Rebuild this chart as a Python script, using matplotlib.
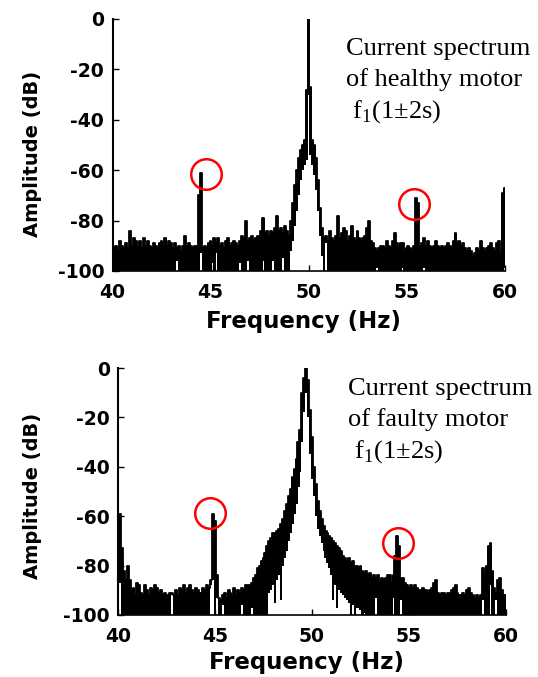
import numpy as np
import matplotlib.pyplot as plt

plt.rcParams['axes.unicode_minus'] = False
plt.rcParams['font.family'] = 'DejaVu Sans'
plt.rcParams['font.weight'] = 'bold'
plt.rcParams['mathtext.fontset'] = 'custom'
plt.rcParams['mathtext.rm'] = 'Liberation Serif'

# spectrum bins, 0.1 Hz from 40 to 60 Hz
freq = np.round(np.arange(400, 601) / 10.0, 1)

# healthy motor: upper edge of trace (dB) per bin
healthy_top = [
    -90, -91, -90, -92, -88, -90, -91, -89, -91, -84,
    -90, -87, -88, -90, -88, -91, -87, -90, -88, -90,
    -91, -89, -90, -91, -89, -88, -90, -87, -90, -88,
    -89, -91, -89, -91, -90, -92, -90, -86, -90, -89,
    -90, -91, -90, -90, -70, -61, -91, -90, -91, -89,
    -88, -90, -87, -89, -87, -90, -89, -91, -88, -87,
    -90, -89, -88, -89, -90, -88, -86, -87, -80, -88,
    -87, -86, -88, -87, -86, -87, -84, -79, -85, -84,
    -86, -84, -85, -83, -78, -84, -83, -85, -82, -84,
    -86, -80, -73, -66, -60, -55, -52, -50, -48, -28,
    0, -27, -48, -50, -55, -64, -75, -83, -87, -86,
    -88, -84, -87, -88, -86, -78, -87, -85, -83, -84,
    -88, -86, -82, -87, -88, -84, -87, -88, -87, -86,
    -83, -80, -88, -89, -91, -92, -91, -90, -90, -91,
    -88, -90, -91, -88, -85, -89, -90, -89, -89, -92,
    -91, -90, -91, -92, -90, -71, -73, -90, -89, -87,
    -90, -88, -90, -91, -90, -88, -90, -91, -90, -91,
    -90, -89, -90, -91, -88, -85, -89, -88, -90, -89,
    -91, -92, -91, -92, -94, -93, -91, -92, -88, -91,
    -92, -91, -90, -89, -91, -92, -89, -88, -93, -69,
    -67,
]

# healthy motor: lower edge of trace (dB) per bin
healthy_low = [
    -100, -100, -100, -100, -100, -100, -100, -100, -100, -100,
    -100, -100, -100, -100, -100, -100, -100, -100, -100, -100,
    -100, -100, -100, -100, -100, -100, -100, -100, -100, -100,
    -100, -100, -100, -96, -100, -100, -100, -100, -100, -100,
    -100, -100, -100, -100, -100, -93, -100, -100, -100, -100,
    -100, -97, -100, -93, -100, -100, -100, -100, -100, -100,
    -100, -100, -100, -100, -100, -97, -100, -100, -100, -96,
    -100, -100, -100, -100, -100, -100, -100, -96, -100, -100,
    -100, -100, -96, -100, -100, -100, -100, -95, -100, -100,
    -100, -92, -88, -82, -76, -70, -64, -60, -58, -56,
    -30, -54, -58, -62, -68, -76, -86, -94, -100, -89,
    -100, -100, -100, -100, -100, -100, -100, -100, -100, -100,
    -100, -100, -100, -100, -100, -100, -100, -100, -100, -100,
    -100, -100, -100, -100, -100, -99, -100, -100, -100, -100,
    -100, -100, -100, -100, -100, -100, -100, -100, -99, -100,
    -100, -100, -100, -100, -100, -100, -100, -100, -100, -99,
    -100, -100, -100, -100, -100, -100, -100, -100, -100, -100,
    -100, -100, -100, -100, -100, -100, -100, -100, -100, -100,
    -100, -100, -100, -100, -100, -100, -100, -100, -100, -100,
    -100, -100, -100, -100, -100, -100, -100, -100, -100, -100,
    -99,
]

# faulty motor: upper edge of trace (dB) per bin
faulty_top = [
    -76, -59, -73, -82, -86, -80, -86, -90, -89, -92,
    -87, -88, -91, -92, -88, -90, -92, -89, -90, -88,
    -89, -91, -90, -92, -91, -93, -92, -91, -91, -92,
    -90, -92, -89, -90, -88, -91, -89, -88, -90, -91,
    -89, -90, -92, -91, -89, -90, -88, -89, -86, -59,
    -62, -84, -93, -94, -92, -91, -93, -90, -91, -92,
    -89, -92, -90, -91, -89, -90, -88, -88, -88, -87,
    -85, -84, -81, -80, -78, -77, -75, -72, -70, -69,
    -67, -67, -66, -65, -63, -61, -58, -55, -52, -49,
    -44, -41, -37, -30, -25, -10, -4, 0, -5, -17,
    -28, -40, -47, -54, -58, -61, -64, -66, -67, -68,
    -69, -70, -71, -72, -73, -74, -76, -77, -78, -77,
    -79, -78, -80, -80, -81, -80, -82, -83, -82, -84,
    -83, -85, -84, -85, -84, -86, -85, -86, -85, -84,
    -84, -87, -84, -76, -68, -72, -85, -85, -87, -88,
    -89, -88, -89, -88, -89, -90, -90, -89, -90, -90,
    -91, -90, -89, -87, -86, -91, -92, -91, -91, -92,
    -91, -91, -90, -89, -88, -91, -92, -92, -91, -92,
    -90, -89, -91, -92, -93, -92, -93, -92, -81, -84,
    -80, -72, -71, -82, -89, -91, -86, -85, -90, -92,
    -92,
]

# faulty motor: lower edge of trace (dB) per bin
faulty_low = [
    -100, -87, -100, -100, -100, -100, -100, -100, -100, -100,
    -100, -100, -100, -100, -100, -100, -100, -100, -100, -100,
    -100, -100, -100, -100, -100, -100, -100, -100, -92, -100,
    -100, -100, -100, -100, -100, -100, -100, -100, -100, -100,
    -100, -100, -100, -100, -100, -100, -100, -100, -88, -86,
    -100, -93, -100, -100, -96, -100, -100, -100, -100, -100,
    -100, -100, -100, -100, -96, -100, -100, -100, -100, -97,
    -100, -100, -100, -100, -100, -100, -100, -100, -91, -90,
    -88, -95, -86, -84, -94, -80, -77, -74, -70, -67,
    -63, -59, -55, -48, -42, -30, -18, -10, -20, -35,
    -45, -52, -60, -65, -68, -71, -74, -77, -79, -81,
    -84, -94, -88, -97, -90, -91, -92, -93, -94, -95,
    -100, -96, -100, -97, -97, -98, -100, -99, -100, -100,
    -100, -100, -100, -93, -100, -100, -100, -100, -100, -100,
    -100, -100, -93, -100, -100, -100, -94, -100, -100, -100,
    -100, -100, -100, -100, -100, -100, -100, -100, -100, -100,
    -100, -100, -100, -100, -100, -100, -100, -100, -100, -100,
    -100, -100, -100, -100, -100, -100, -100, -100, -100, -100,
    -100, -100, -100, -100, -100, -100, -100, -100, -94, -100,
    -100, -100, -88, -100, -100, -94, -100, -100, -100, -100,
    -100,
]

# red circles around the f1(1+-2s) sidebands
healthy_circle_f = [44.76, 55.38]
healthy_circle_db = [-61.7, -73.5]
faulty_circle_f = [44.74, 54.42]
faulty_circle_db = [-58.9, -71.0]

x_ticks = [40, 45, 50, 55, 60]
y_ticks = [0, -20, -40, -60, -80, -100]

W, H = 538.0, 677.0


def draw_panel(ax, top, low, cf, cdb):
    top = np.array(top, dtype=float)
    low = np.array(low, dtype=float)
    ax.bar(freq, top - low, bottom=low, width=0.115, color='black',
           linewidth=0, antialiased=False)
    ax.step(freq, top, where='mid', color='black', lw=1.3)
    ax.plot(cf, cdb, 'o', ms=22, mfc='none', mec='red', mew=1.8,
            clip_on=False)
    ax.set_xlim(40, 60)
    ax.set_ylim(-100, 0)
    ax.set_xticks(x_ticks)
    ax.set_yticks(y_ticks)
    for s in ['top', 'right']:
        ax.spines[s].set_visible(False)
    ax.spines['left'].set_linewidth(1.5)
    ax.spines['bottom'].set_linewidth(1.2)
    ax.tick_params(direction='in', length=4, width=1, labelsize=13.5)
    ax.tick_params(axis='x', pad=9)
    ax.tick_params(axis='y', pad=6)


def main():
    fig = plt.figure(figsize=(5.38, 6.77), dpi=100)

    ax1 = fig.add_axes([112.5 / W, 1 - 271 / H, 392 / W, 252 / H])
    draw_panel(ax1, healthy_top, healthy_low,
               healthy_circle_f, healthy_circle_db)

    ax2 = fig.add_axes([118 / W, 1 - 615 / H, 388 / W, 247 / H])
    draw_panel(ax2, faulty_top, faulty_low,
               faulty_circle_f, faulty_circle_db)

    for yc in [154, 496]:
        fig.text(33 / W, 1 - yc / H, 'Amplitude (dB)', rotation=90,
                 ha='center', va='center', fontsize=14, fontweight='bold')
    for xc, yc in [(304, 321), (306, 662)]:
        fig.text(xc / W, 1 - yc / H, 'Frequency (Hz)',
                 ha='center', va='center', fontsize=16.5, fontweight='bold')

    notes = [
        (346, [55, 86, 118], 'of healthy motor'),
        (348, [395, 426, 458], 'of faulty motor'),
    ]
    for x0, ys, second in notes:
        lines = ['Current spectrum', second, r' f$_\mathregular{1}$(1±2s)']
        for y0, txt in zip(ys, lines):
            fig.text(x0 / W, 1 - y0 / H, txt, ha='left', va='baseline',
                     fontsize=19, fontweight='normal',
                     family='Liberation Serif')

    fig.savefig('out.png', dpi=100)


if __name__ == '__main__':
    main()
